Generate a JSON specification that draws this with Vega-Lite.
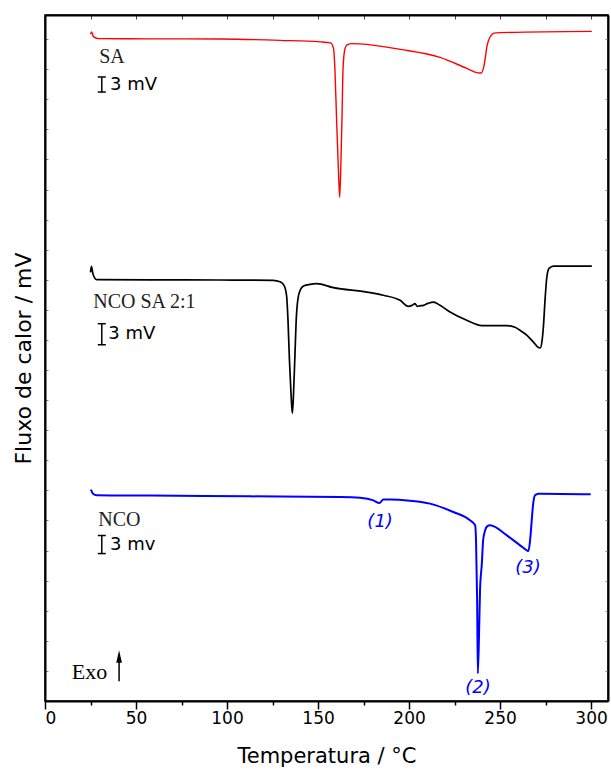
{
  "$schema": "https://vega.github.io/schema/vega-lite/v6.json",
  "width": 563,
  "height": 686,
  "autosize": "none",
  "padding": {"left": 45, "top": 15, "right": 3, "bottom": 71},
  "config": {
    "view": {"stroke": "black", "strokeWidth": 1.5},
    "font": "DejaVu Sans"
  },
  "datasets": {
    "dsc": [
      {"amostra": "SA", "T": 25.0, "v": 110.8},
      {"amostra": "SA", "T": 25.6, "v": 111.2},
      {"amostra": "SA", "T": 26.6, "v": 110.4},
      {"amostra": "SA", "T": 29.3, "v": 110.07},
      {"amostra": "SA", "T": 57.7, "v": 110.04},
      {"amostra": "SA", "T": 96.2, "v": 110.0},
      {"amostra": "SA", "T": 129.1, "v": 109.79},
      {"amostra": "SA", "T": 151.1, "v": 109.54},
      {"amostra": "SA", "T": 156.9, "v": 109.37},
      {"amostra": "SA", "T": 158.5, "v": 108.46},
      {"amostra": "SA", "T": 159.3, "v": 104.8},
      {"amostra": "SA", "T": 160.2, "v": 96.5},
      {"amostra": "SA", "T": 161.3, "v": 87.4},
      {"amostra": "SA", "T": 161.9, "v": 83.7},
      {"amostra": "SA", "T": 162.6, "v": 89.85},
      {"amostra": "SA", "T": 163.2, "v": 97.3},
      {"amostra": "SA", "T": 163.7, "v": 104.8},
      {"amostra": "SA", "T": 164.6, "v": 108.1},
      {"amostra": "SA", "T": 165.9, "v": 109.04},
      {"amostra": "SA", "T": 168.7, "v": 109.24},
      {"amostra": "SA", "T": 173.1, "v": 109.2},
      {"amostra": "SA", "T": 195.1, "v": 108.29},
      {"amostra": "SA", "T": 217.0, "v": 106.96},
      {"amostra": "SA", "T": 231.7, "v": 105.14},
      {"amostra": "SA", "T": 237.9, "v": 104.39},
      {"amostra": "SA", "T": 239.6, "v": 104.35},
      {"amostra": "SA", "T": 241.2, "v": 105.6},
      {"amostra": "SA", "T": 242.9, "v": 108.96},
      {"amostra": "SA", "T": 244.5, "v": 110.34},
      {"amostra": "SA", "T": 246.7, "v": 110.98},
      {"amostra": "SA", "T": 250.0, "v": 111.07},
      {"amostra": "SA", "T": 300.4, "v": 111.28},

      {"amostra": "NCO SA 2:1", "T": 25.0, "v": 71.24},
      {"amostra": "NCO SA 2:1", "T": 25.5, "v": 72.23},
      {"amostra": "NCO SA 2:1", "T": 26.4, "v": 70.91},
      {"amostra": "NCO SA 2:1", "T": 28.4, "v": 70.02},
      {"amostra": "NCO SA 2:1", "T": 57.7, "v": 69.99},
      {"amostra": "NCO SA 2:1", "T": 96.2, "v": 69.96},
      {"amostra": "NCO SA 2:1", "T": 125.4, "v": 69.91},
      {"amostra": "NCO SA 2:1", "T": 129.1, "v": 69.66},
      {"amostra": "NCO SA 2:1", "T": 131.3, "v": 69.08},
      {"amostra": "NCO SA 2:1", "T": 132.7, "v": 67.41},
      {"amostra": "NCO SA 2:1", "T": 133.5, "v": 63.26},
      {"amostra": "NCO SA 2:1", "T": 134.3, "v": 56.61},
      {"amostra": "NCO SA 2:1", "T": 135.2, "v": 50.8},
      {"amostra": "NCO SA 2:1", "T": 135.9, "v": 47.81},
      {"amostra": "NCO SA 2:1", "T": 136.5, "v": 50.8},
      {"amostra": "NCO SA 2:1", "T": 137.3, "v": 57.4},
      {"amostra": "NCO SA 2:1", "T": 138.0, "v": 63.26},
      {"amostra": "NCO SA 2:1", "T": 139.0, "v": 66.92},
      {"amostra": "NCO SA 2:1", "T": 140.4, "v": 68.41},
      {"amostra": "NCO SA 2:1", "T": 142.3, "v": 68.99},
      {"amostra": "NCO SA 2:1", "T": 145.6, "v": 69.24},
      {"amostra": "NCO SA 2:1", "T": 149.3, "v": 69.36},
      {"amostra": "NCO SA 2:1", "T": 158.4, "v": 68.69},
      {"amostra": "NCO SA 2:1", "T": 176.8, "v": 67.96},
      {"amostra": "NCO SA 2:1", "T": 185.9, "v": 67.42},
      {"amostra": "NCO SA 2:1", "T": 195.1, "v": 66.58},
      {"amostra": "NCO SA 2:1", "T": 199.6, "v": 65.59},
      {"amostra": "NCO SA 2:1", "T": 201.6, "v": 65.75},
      {"amostra": "NCO SA 2:1", "T": 203.3, "v": 66.03},
      {"amostra": "NCO SA 2:1", "T": 204.4, "v": 65.59},
      {"amostra": "NCO SA 2:1", "T": 206.0, "v": 65.67},
      {"amostra": "NCO SA 2:1", "T": 207.9, "v": 65.75},
      {"amostra": "NCO SA 2:1", "T": 210.4, "v": 66.08},
      {"amostra": "NCO SA 2:1", "T": 213.4, "v": 66.3},
      {"amostra": "NCO SA 2:1", "T": 217.0, "v": 65.75},
      {"amostra": "NCO SA 2:1", "T": 222.5, "v": 64.64},
      {"amostra": "NCO SA 2:1", "T": 231.7, "v": 63.26},
      {"amostra": "NCO SA 2:1", "T": 239.9, "v": 62.38},
      {"amostra": "NCO SA 2:1", "T": 253.7, "v": 62.38},
      {"amostra": "NCO SA 2:1", "T": 258.2, "v": 62.1},
      {"amostra": "NCO SA 2:1", "T": 261.0, "v": 61.6},
      {"amostra": "NCO SA 2:1", "T": 264.8, "v": 60.77},
      {"amostra": "NCO SA 2:1", "T": 268.3, "v": 59.65},
      {"amostra": "NCO SA 2:1", "T": 270.9, "v": 58.77},
      {"amostra": "NCO SA 2:1", "T": 272.0, "v": 58.66},
      {"amostra": "NCO SA 2:1", "T": 273.1, "v": 59.94},
      {"amostra": "NCO SA 2:1", "T": 273.8, "v": 62.15},
      {"amostra": "NCO SA 2:1", "T": 274.7, "v": 66.58},
      {"amostra": "NCO SA 2:1", "T": 275.7, "v": 70.46},
      {"amostra": "NCO SA 2:1", "T": 276.9, "v": 71.9},
      {"amostra": "NCO SA 2:1", "T": 279.3, "v": 72.28},
      {"amostra": "NCO SA 2:1", "T": 300.4, "v": 72.28},

      {"amostra": "NCO", "T": 25.0, "v": 35.1},
      {"amostra": "NCO", "T": 25.4, "v": 35.0},
      {"amostra": "NCO", "T": 26.4, "v": 34.43},
      {"amostra": "NCO", "T": 28.4, "v": 34.18},
      {"amostra": "NCO", "T": 57.7, "v": 34.13},
      {"amostra": "NCO", "T": 112.6, "v": 34.01},
      {"amostra": "NCO", "T": 162.1, "v": 33.9},
      {"amostra": "NCO", "T": 173.1, "v": 33.77},
      {"amostra": "NCO", "T": 180.4, "v": 33.35},
      {"amostra": "NCO", "T": 183.7, "v": 32.9},
      {"amostra": "NCO", "T": 185.9, "v": 33.47},
      {"amostra": "NCO", "T": 189.6, "v": 33.47},
      {"amostra": "NCO", "T": 200.5, "v": 33.27},
      {"amostra": "NCO", "T": 211.5, "v": 32.8},
      {"amostra": "NCO", "T": 224.3, "v": 31.41},
      {"amostra": "NCO", "T": 233.5, "v": 30.03},
      {"amostra": "NCO", "T": 236.3, "v": 29.2},
      {"amostra": "NCO", "T": 236.8, "v": 26.7},
      {"amostra": "NCO", "T": 237.4, "v": 16.73},
      {"amostra": "NCO", "T": 237.8, "v": 4.55},
      {"amostra": "NCO", "T": 238.5, "v": 11.75},
      {"amostra": "NCO", "T": 239.0, "v": 18.4},
      {"amostra": "NCO", "T": 240.0, "v": 22.88},
      {"amostra": "NCO", "T": 240.7, "v": 26.7},
      {"amostra": "NCO", "T": 241.8, "v": 28.37},
      {"amostra": "NCO", "T": 242.9, "v": 29.03},
      {"amostra": "NCO", "T": 244.5, "v": 29.2},
      {"amostra": "NCO", "T": 253.7, "v": 27.53},
      {"amostra": "NCO", "T": 261.0, "v": 25.87},
      {"amostra": "NCO", "T": 264.7, "v": 25.04},
      {"amostra": "NCO", "T": 265.6, "v": 24.93},
      {"amostra": "NCO", "T": 266.5, "v": 26.7},
      {"amostra": "NCO", "T": 267.4, "v": 30.03},
      {"amostra": "NCO", "T": 268.1, "v": 32.52},
      {"amostra": "NCO", "T": 269.2, "v": 34.18},
      {"amostra": "NCO", "T": 270.9, "v": 34.43},
      {"amostra": "NCO", "T": 272.0, "v": 34.46},
      {"amostra": "NCO", "T": 299.8, "v": 34.35}
    ],
    "nomes": [
      {"T": 29.8, "v": 107.0, "texto": "SA"},
      {"T": 26.5, "v": 66.3, "texto": "NCO SA 2:1"},
      {"T": 29.3, "v": 30.14, "texto": "NCO"}
    ],
    "escalas": [
      {"T": 35.7, "v": 102.3, "texto": "3 mV"},
      {"T": 34.8, "v": 61.05, "texto": "3 mV"},
      {"T": 35.7, "v": 25.99, "texto": "3 mv"}
    ],
    "barras": [
      {"T": 31.2, "T2": 31.2, "v": 103.7, "v2": 101.2},
      {"T": 29.0, "T2": 33.4, "v": 103.7, "v2": 103.7},
      {"T": 29.0, "T2": 33.4, "v": 101.2, "v2": 101.2},
      {"T": 31.2, "T2": 31.2, "v": 62.7, "v2": 59.2},
      {"T": 29.0, "T2": 33.4, "v": 62.7, "v2": 62.7},
      {"T": 29.0, "T2": 33.4, "v": 59.2, "v2": 59.2},
      {"T": 31.2, "T2": 31.2, "v": 27.5, "v2": 24.5},
      {"T": 29.0, "T2": 33.4, "v": 27.5, "v2": 27.5},
      {"T": 29.0, "T2": 33.4, "v": 24.5, "v2": 24.5},
      {"T": 40.7, "T2": 40.7, "v": 3.3, "v2": 7.0}
    ],
    "picos": [
      {"T": 184.1, "v": 29.69, "texto": "(1)"},
      {"T": 237.9, "v": 2.11, "texto": "(2)"},
      {"T": 265.4, "v": 22.05, "texto": "(3)"}
    ],
    "exo": [
      {"T": 14.7, "v": 4.82, "texto": "Exo", "Tseta": 40.7, "vseta": 7.4}
    ]
  },
  "layer": [
    {
      "data": {"name": "dsc"},
      "mark": {"type": "line", "interpolate": "monotone"},
      "encoding": {
        "x": {
          "field": "T", "type": "quantitative",
          "scale": {"domain": [0, 309.3], "nice": false, "zero": false},
          "axis": {
            "orient": "bottom",
            "values": [0, 25, 50, 75, 100, 125, 150, 175, 200, 225, 250, 275, 300],
            "labelExpr": "datum.value % 50 === 0 ? datum.label : ''",
            "tickSize": {"condition": {"test": "datum.value % 50 === 0", "value": 8}, "value": 4},
            "tickColor": "black", "tickWidth": 1.5,
            "domainColor": "black", "domainWidth": 2,
            "grid": false,
            "labelFont": "DejaVu Sans", "labelFontSize": 17, "labelColor": "black", "labelPadding": 1,
            "title": "Temperatura / °C",
            "titleFont": "DejaVu Sans", "titleFontSize": 21, "titleFontWeight": "normal",
            "titleColor": "black", "titlePadding": 19
          }
        },
        "y": {
          "field": "v", "type": "quantitative",
          "scale": {"domain": [0, 114], "nice": false, "zero": false},
          "axis": {
            "orient": "left",
            "values": [5, 10, 15, 20, 25, 30, 35, 40, 45, 50, 55, 60, 65, 70, 75, 80, 85, 90, 95, 100, 105, 110],
            "labels": false,
            "tickSize": -3, "tickColor": "#888888", "tickWidth": 1,
            "domainColor": "black", "domainWidth": 2,
            "grid": false,
            "title": "Fluxo de calor / mV",
            "titleFont": "DejaVu Sans", "titleFontSize": 22, "titleFontWeight": "normal",
            "titleColor": "black", "titlePadding": 9
          }
        },
        "color": {
          "field": "amostra", "type": "nominal",
          "scale": {"domain": ["SA", "NCO SA 2:1", "NCO"], "range": ["#ff0000", "#000000", "#0000ff"]},
          "legend": null
        },
        "strokeWidth": {
          "field": "amostra", "type": "nominal",
          "scale": {"domain": ["SA", "NCO SA 2:1", "NCO"], "range": [1.4, 2, 1.5]},
          "legend": null
        }
      }
    },
    {
      "data": {"name": "barras"},
      "mark": {"type": "rule", "color": "black", "strokeWidth": 1.5},
      "encoding": {
        "x": {
          "field": "T", "type": "quantitative",
          "axis": {
            "orient": "top",
            "values": [0, 25, 50, 75, 100, 125, 150, 175, 200, 225, 250, 275, 300],
            "labels": false, "title": null, "grid": false,
            "tickSize": -4, "tickColor": "#444444", "tickWidth": 1,
            "domainColor": "black", "domainWidth": 2
          }
        },
        "x2": {"field": "T2"},
        "y": {
          "field": "v", "type": "quantitative",
          "axis": {
            "orient": "right",
            "values": [5, 10, 15, 20, 25, 30, 35, 40, 45, 50, 55, 60, 65, 70, 75, 80, 85, 90, 95, 100, 105, 110],
            "labels": false, "title": null, "grid": false,
            "tickSize": -3, "tickColor": "#888888", "tickWidth": 1,
            "domainColor": "black", "domainWidth": 2
          }
        },
        "y2": {"field": "v2"}
      }
    },
    {
      "data": {"name": "nomes"},
      "mark": {"type": "text", "font": "Liberation Serif", "fontSize": 20, "align": "left", "baseline": "middle", "color": "#222222"},
      "encoding": {
        "x": {"field": "T", "type": "quantitative", "axis": null},
        "y": {"field": "v", "type": "quantitative", "axis": null},
        "text": {"field": "texto"}
      }
    },
    {
      "data": {"name": "escalas"},
      "mark": {"type": "text", "font": "DejaVu Sans", "fontSize": 18, "align": "left", "baseline": "middle", "color": "black"},
      "encoding": {
        "x": {"field": "T", "type": "quantitative", "axis": null},
        "y": {"field": "v", "type": "quantitative", "axis": null},
        "text": {"field": "texto"}
      }
    },
    {
      "data": {"name": "picos"},
      "mark": {"type": "text", "font": "DejaVu Sans", "fontSize": 18, "fontStyle": "italic", "align": "center", "baseline": "middle", "color": "#0000ff"},
      "encoding": {
        "x": {"field": "T", "type": "quantitative", "axis": null},
        "y": {"field": "v", "type": "quantitative", "axis": null},
        "text": {"field": "texto"}
      }
    },
    {
      "data": {"name": "exo"},
      "mark": {"type": "text", "font": "Liberation Serif", "fontSize": 22, "align": "left", "baseline": "middle", "color": "black"},
      "encoding": {
        "x": {"field": "T", "type": "quantitative", "axis": null},
        "y": {"field": "v", "type": "quantitative", "axis": null},
        "text": {"field": "texto"}
      }
    },
    {
      "data": {"name": "exo"},
      "mark": {"type": "point", "shape": "M0,-1L0.45,1L-0.45,1Z", "filled": true, "color": "black", "opacity": 1, "size": 160},
      "encoding": {
        "x": {"field": "Tseta", "type": "quantitative", "axis": null},
        "y": {"field": "vseta", "type": "quantitative", "axis": null}
      }
    }
  ],
  "resolve": {"axis": {"x": "independent", "y": "independent"}}
}
